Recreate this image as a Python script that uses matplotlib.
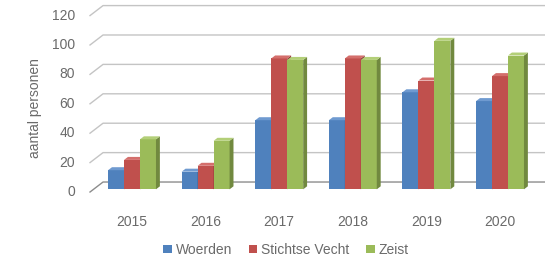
import matplotlib
matplotlib.use("Agg")
import matplotlib.pyplot as plt
from matplotlib.patches import Polygon

years = ["2015", "2016", "2017", "2018", "2019", "2020"]
series = ["Woerden", "Stichtse Vecht", "Zeist"]
woerden = [13, 12, 47, 47, 66, 60]
stichtse_vecht = [20, 16, 89, 89, 74, 77]
zeist = [34, 33, 88, 88, 101, 91]
yticks = [0, 20, 40, 60, 80, 100, 120]

front = ["#4f81bd", "#c0504d", "#9bbb59"]
side = ["#385d8a", "#8c3836", "#71893f"]
top = ["#6f9ad0", "#d46f6c", "#b3cf78"]

plt.rcParams["font.family"] = ["Liberation Sans", "DejaVu Sans"]
txt = "#6a6a6a"

fig = plt.figure(figsize=(5.45, 2.62), dpi=100)
ax = fig.add_axes([0, 0, 1, 1])
ax.set_xlim(-1.746, 5.659)
ax.set_ylim(-47.6, 130.6)
ax.axis("off")

# depth of the floor in data units
DX, DY = 0.177, 6.8
xl = -0.523

# back wall gridlines with the left diagonal
for v in yticks:
    c = "#8c8c8c" if v == 0 else "#c4c4c4"
    ax.plot([xl, xl + DX, 5.7], [v, v + DY, v + DY], color=c, lw=1, zorder=1)
    ax.text(-0.73, v, str(v), ha="right", va="center", fontsize=10, color=txt)

w = 0.217
tb, d = 0.27, 0.3
handles = []
for k, vals in enumerate([woerden, stichtse_vecht, zeist]):
    xs = [i + (k - 1) * w + DX * tb for i in range(len(years))]
    b = DY * tb
    bars = ax.bar(xs, vals, w, bottom=b, color=front[k], zorder=3 + k * 0.1,
                  label=series[k])
    handles.append(bars)
    for x, v in zip(xs, vals):
        r = x + w / 2
        l = x - w / 2
        ax.add_patch(Polygon([(r, b), (r + DX * d, b + DY * d),
                              (r + DX * d, b + v + DY * d), (r, b + v)],
                             closed=True, fc=side[k], ec="none", zorder=3 + k * 0.1))
        ax.add_patch(Polygon([(l, b + v), (r, b + v), (r + DX * d, b + v + DY * d),
                              (l + DX * d, b + v + DY * d)],
                             closed=True, fc=top[k], ec="none", zorder=3 + k * 0.1))

for i, y in enumerate(years):
    ax.text(i + DX * tb, -20.4, y, ha="center", va="center", fontsize=10, color=txt)

ax.text(-1.27, 57, "aantal personen", rotation=90, ha="center", va="center",
        fontsize=10, color=txt)

fig.legend(handles=handles, loc="center", bbox_to_anchor=(0.525, 0.046), ncol=3,
           frameon=False, fontsize=10, labelcolor=txt, handlelength=0.6,
           handleheight=0.6, handletextpad=0.3, columnspacing=1.2)

fig.savefig("out.png", dpi=100)
